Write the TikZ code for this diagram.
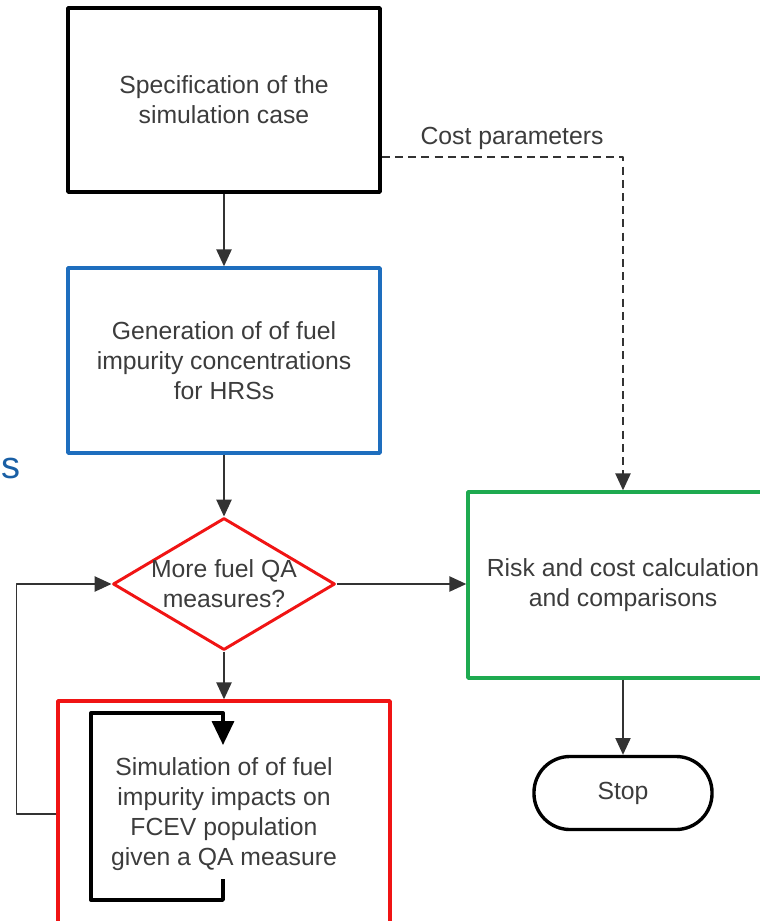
\documentclass[tikz,border=0pt]{standalone}
\usepackage{fontspec}
\setmainfont{Liberation Sans}
\usetikzlibrary{arrows.meta,shapes.geometric}
\definecolor{boxblue}{RGB}{30,110,190}
\definecolor{boxred}{RGB}{240,20,20}
\definecolor{boxgreen}{RGB}{30,170,80}
\definecolor{txtgray}{RGB}{60,60,60}
\definecolor{capblue}{RGB}{25,95,165}
\tikzset{
	stepbox/.style={draw,line width=2.4pt,rectangle,inner sep=0pt,align=center,text=txtgray},
	decision/.style={draw=boxred,line width=2.1pt,diamond,inner sep=0pt,minimum width=5.55cm,minimum height=3.3cm},
	flow/.style={line width=1pt,draw=black!80,-{Triangle[length=0.42cm,width=0.38cm]}},
}
\begin{document}
\begin{tikzpicture}[x=0.025cm,y=-0.025cm,line join=round,font=\fontsize{17.6}{21.3}\selectfont]
	\useasboundingbox (0,0) rectangle (760,921);
	\clip (0,0) rectangle (760,921);
	\node[stepbox,minimum width=7.8cm,minimum height=4.6cm] (spec) at (224,100) {Specification of the\\simulation case};
	\node[stepbox,draw=boxblue,minimum width=7.8cm,minimum height=4.625cm] (gen) at (224,360.5) {Generation of of fuel\\impurity concentrations\\for HRSs};
	\node[decision,label={[text=txtgray,align=center]center:More fuel QA\\measures?}] (qa) at (224,584) {};
	\node[stepbox,draw=boxgreen,minimum width=7.75cm,minimum height=4.65cm] (risk) at (623,585) {Risk and cost calculation\\and comparisons};
	\node[stepbox,draw=boxred,minimum width=8.3cm,minimum height=5.65cm] (sim) at (224,814) {Simulation of of fuel\\impurity impacts on\\FCEV population\\given a QA measure};
	\node[stepbox,rounded corners=0.9cm,minimum width=4.45cm,minimum height=1.825cm] (stop) at (623,793) {Stop};
	\node[text=txtgray] (costlbl) at (512,138) {Cost parameters};
	\node[text=capblue,font=\fontsize{27}{30}\selectfont,inner sep=0pt,anchor=base east] (cut) at (21,478) {us};
	% connectors
	\draw[flow] (spec) -- (gen);
	\draw[flow] (gen) -- (qa);
	\draw[flow] (qa.east) -- (qa.east -| risk.west);
	\draw[flow] (qa) -- (sim);
	\draw[flow] (risk) -- (stop);
	\draw[flow,dash pattern=on 0.2cm off 0.13cm] (spec.east |- 0,157) -| (risk.north);
	\draw[flow] (sim.west) -- ++(-40,0) |- (qa.west);
	% loop symbol inside the simulation box
	\draw[line width=2.4pt,-{Triangle[length=0.6cm,width=0.55cm]}] (223,879) -- (223,900) -- (91,900) -- (91,713) -- (223,713) -- (223,745);
\end{tikzpicture}
\end{document}
